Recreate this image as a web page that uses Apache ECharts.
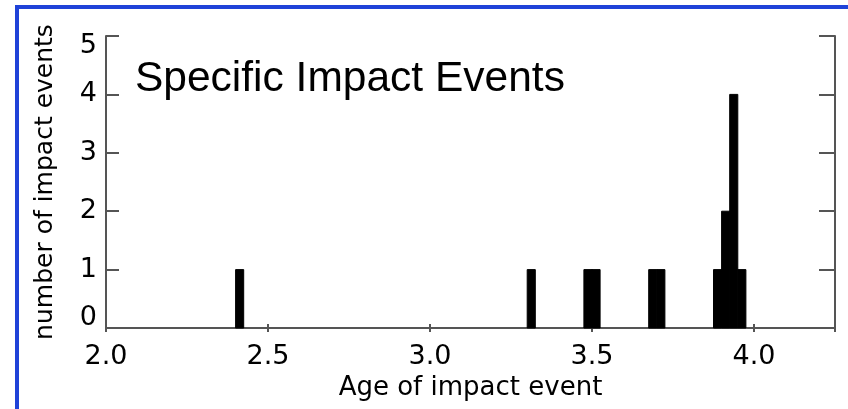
<!DOCTYPE html>
<html>
<head>
<meta charset="utf-8">
<script src="https://cdn.jsdelivr.net/npm/echarts@6/dist/echarts.min.js"></script>
<style>
  html, body { margin: 0; padding: 0; background: #fff; }
  #main { width: 848px; height: 409px; }
</style>
</head>
<body>
<div id="main"></div>
<script>
// histogram bins: left edge of each bin (Ga) and number of events in it
var binStart = [2.400, 3.300, 3.475, 3.500, 3.675, 3.700, 3.875, 3.900, 3.925, 3.950];
var counts = [1, 1, 1, 1, 1, 1, 1, 2, 4, 1];
var binWidth = 0.025;

var xTicks = [2.0, 2.5, 3.0, 3.5, 4.0];
var yTicks = [0, 1, 2, 3, 4, 5];

var axisColor = '#555';
var labelFont = 'DejaVu Sans';

var bins = binStart.map(function (s, i) {
  return [s, s + binWidth, counts[i]];
});

var myChart = echarts.init(document.getElementById('main'));

var option = {
  backgroundColor: '#fff',
  animation: false,
  title: {
    text: 'Specific Impact Events',
    left: 135,
    top: 58,
    padding: 0,
    textStyle: {
      fontFamily: 'Liberation Sans',
      fontSize: 42.5,
      fontWeight: 'normal',
      color: '#000'
    }
  },
  grid: {
    left: 106,
    right: 13,
    top: 36,
    bottom: 81
  },
  xAxis: [{
    type: 'value',
    min: xTicks[0],
    max: 4.25,
    interval: 0.5,
    name: 'Age of impact event',
    nameLocation: 'middle',
    nameGap: 47,
    nameTextStyle: { fontFamily: labelFont, fontSize: 26, color: '#000' },
    axisLine: { show: true, lineStyle: { color: axisColor, width: 2 } },
    axisTick: { show: true, inside: true, length: 4, lineStyle: { color: axisColor, width: 2 } },
    axisLabel: {
      margin: 15,
      showMaxLabel: false,
      fontFamily: labelFont,
      fontSize: 27,
      color: '#000',
      formatter: function (v) { return v.toFixed(1); }
    },
    splitLine: { show: false }
  }, {
    type: 'value',
    position: 'top',
    min: xTicks[0],
    max: 4.25,
    interval: 0.5,
    axisLine: { show: true, lineStyle: { color: axisColor, width: 2 } },
    axisTick: { show: true, inside: true, length: 4, lineStyle: { color: axisColor, width: 2 } },
    axisLabel: { show: false },
    splitLine: { show: false }
  }],
  yAxis: [{
    type: 'value',
    min: yTicks[0],
    max: yTicks[yTicks.length - 1],
    interval: 1,
    name: 'number of impact events',
    nameLocation: 'middle',
    nameGap: 48,
    nameTextStyle: { fontFamily: labelFont, fontSize: 25, color: '#000' },
    axisLine: { show: true, lineStyle: { color: axisColor, width: 2 } },
    axisTick: { show: true, inside: true, length: 13, lineStyle: { color: axisColor, width: 2 } },
    axisLabel: {
      margin: 9,
      fontFamily: labelFont,
      fontSize: 27,
      lineHeight: 20,
      color: '#000',
      verticalAlignMinLabel: 'bottom',
      verticalAlignMaxLabel: 'top'
    },
    splitLine: { show: false }
  }, {
    type: 'value',
    position: 'right',
    min: yTicks[0],
    max: yTicks[yTicks.length - 1],
    interval: 1,
    axisLine: { show: true, lineStyle: { color: axisColor, width: 2 } },
    axisTick: { show: true, inside: true, length: 16, lineStyle: { color: axisColor, width: 2 } },
    axisLabel: { show: false },
    splitLine: { show: false }
  }],
  series: [{
    type: 'custom',
    xAxisIndex: 0,
    yAxisIndex: 0,
    data: bins,
    renderItem: function (params, api) {
      var p0 = api.coord([api.value(0), api.value(2)]);
      var p1 = api.coord([api.value(1), 0]);
      return {
        type: 'rect',
        shape: { x: p0[0], y: p0[1], width: p1[0] - p0[0], height: p1[1] - p0[1] },
        style: { fill: '#000', stroke: '#000', lineWidth: 1 }
      };
    }
  }],
  graphic: [{
    type: 'rect',
    silent: true,
    shape: { x: 17, y: 7, width: 900, height: 500 },
    style: { fill: 'none', stroke: '#1f42d8', lineWidth: 4 }
  }]
};

myChart.setOption(option);
</script>
</body>
</html>
